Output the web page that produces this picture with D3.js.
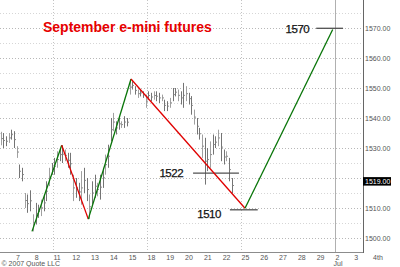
<!DOCTYPE html>
<html><head><meta charset="utf-8">
<script src="https://cdn.jsdelivr.net/npm/d3@7/dist/d3.min.js"></script>
<style>body{margin:0;background:#fff}svg{display:block}</style>
</head><body>
<svg id="c" width="400" height="267"></svg>
<script>
// ---------- data ----------
const title = "September e-mini futures";
const dayLabels = ["7","8","11","12","13","14","15","18","19","20","21","22","25","26","27","28","29","2","3","4th"];
const monthLabel = {index: 17, text: "Jul"};
const yTicks = [1500,1510,1520,1530,1540,1550,1560,1570];
const lastPrice = 1519;
// hourly bars, per trading day (Jun 6 .. Jun 22), [high, low]
const barDayIndex = [-1,0,1,2,3,4,5,6,7,8,9,10,11];
const barHighLow = [
  [[1536,1532],[1535.5,1531],[1535.1,1530.1],[1534,1530.7],[1535.1,1531.8],[1536.2,1532.9],[1535.7,1530.1]],
  [[1530.7,1526.8],[1524.6,1520.1],[1523.5,1519],[1515.1,1510.1],[1514.6,1508.5],[1516,1509],[1508,1502.3]],
  [[1511.8,1504.6],[1511.2,1506.8],[1512.9,1507.4],[1514.6,1509],[1519,1512.4],[1523.5,1517.4],[1525.1,1521.2]],
  [[1526.8,1521.2],[1529,1523.5],[1530.1,1525.7],[1531,1525.1],[1529.6,1525.7],[1528.5,1523.5],[1528.5,1521.2]],
  [[1521.2,1512.4],[1520.1,1513.5],[1518.5,1512.4],[1522.4,1511.2],[1523.5,1515.1],[1520.1,1512.4],[1514.6,1506.4]],
  [[1519,1511.2],[1521.2,1513.5],[1518.5,1514],[1521.2,1512.9],[1523.5,1516.8],[1527.9,1521.2],[1531.2,1523.5]],
  [[1540.1,1532.3],[1541.8,1535.7],[1539,1534.6],[1540.1,1536.2],[1539,1536.8],[1540.7,1536.8],[1540.1,1537.3]],
  [[1552.9,1547.9],[1552.3,1549.6],[1550.7,1547.9],[1549.6,1546.8],[1549.6,1547.3],[1549,1546.8],[1547.9,1543.5]],
  [[1549,1546.2],[1548.5,1545.7],[1549,1546.2],[1549,1545.7],[1548.5,1545.1],[1547.9,1545.7],[1546.2,1542.4]],
  [[1545.7,1542.4],[1546.8,1543.5],[1550.1,1545.7],[1550.1,1547.3],[1549.6,1545.7],[1549,1544.6],[1551.8,1543.5]],
  [[1550.7,1545.7],[1548.5,1544.6],[1547.4,1541.2],[1542.9,1537.9],[1540.1,1534.6],[1536.8,1532.9],[1534.6,1526.8]],
  [[1533.5,1517.9],[1530.1,1522.4],[1532.3,1523.5],[1534.6,1527.9],[1534,1530.1],[1536.2,1530.7],[1535.1,1525.7]],
  [[1529.6,1524.6],[1529,1525.7],[1526.8,1519],[1520.1,1515.1]]
];
const barsPerDay = 7;
// trend swings: [day position, price]
const swingPoints = [[0.883,1502.3],[2.463,1531],[3.878,1506.4],[6.149,1553.1],[12.213,1510],[16.878,1569.6]];
const swingColors = ["green","red","green","red","green"];
// horizontal target levels
const levelLabels = ["1570","1522","1510"];
const levelPrices = [1570,1521.7,1509.5];
const levelFrom = [16.0,9.45,11.41];
const levelTo = [17.43,11.89,12.89];

// ---------- chart ----------
const svg = d3.select("#c");
const plotRight = 363, plotBottom = 252;
const y = d3.scaleLinear().domain([1500,1570]).range([238.3,28.3]);
const x = d3.scaleLinear().domain([0,19]).range([15.4,372.6]);
const crisp = v => Math.round(v) + 0.5;
const FONT = "Liberation Sans, Arial, sans-serif";

// horizontal dotted grid
const gridVals = d3.range(1500,1580,5);
svg.append("g").selectAll("line").data(gridVals).join("line")
  .attr("x1",0).attr("x2",plotRight)
  .attr("y1",d=>crisp(y(d))).attr("y2",d=>crisp(y(d)))
  .attr("stroke",d=>d%10===0?"#b8b8b8":"#d6d6d6")
  .attr("stroke-dasharray","1,2");

// vertical week separators
const weekStarts = [2,7,12];
svg.append("g").selectAll("line").data(weekStarts).join("line")
  .attr("x1",d=>crisp(x(d))).attr("x2",d=>crisp(x(d)))
  .attr("y1",0).attr("y2",plotBottom)
  .attr("stroke","#c4c4c4").attr("stroke-dasharray","1,2");
// month separator (solid)
svg.append("line")
  .attr("x1",crisp(x(monthLabel.index))).attr("x2",crisp(x(monthLabel.index)))
  .attr("y1",0).attr("y2",plotBottom).attr("stroke","#b0b0b0");

// bars
const bars = [];
barHighLow.forEach((day,di)=>{
  day.forEach((hl,j)=>bars.push({u: barDayIndex[di] + (j+0.5)/barsPerDay, hi: hl[0], lo: hl[1]}));
});
svg.append("clipPath").attr("id","pc").append("rect")
  .attr("x",0).attr("y",0).attr("width",plotRight).attr("height",plotBottom);
const bg = svg.append("g").attr("clip-path","url(#pc)");
bg.selectAll("line.bar").data(bars).join("line").attr("class","bar")
  .attr("x1",d=>crisp(x(d.u))).attr("x2",d=>crisp(x(d.u)))
  .attr("y1",d=>y(d.hi)).attr("y2",d=>y(d.lo))
  .attr("stroke",(d,i)=>i%3===1?"#a0a0a0":"#747474").attr("stroke-width",1);
bg.selectAll("line.tick").data(bars).join("line").attr("class","tick")
  .attr("x1",d=>crisp(x(d.u))).attr("x2",d=>crisp(x(d.u))+1.5)
  .attr("y1",d=>y((d.hi+d.lo)/2)).attr("y2",d=>y((d.hi+d.lo)/2))
  .attr("stroke","#8a8a8a").attr("stroke-width",1);

// level lines
levelLabels.forEach((lab,i)=>{
  svg.append("line")
    .attr("x1",x(levelFrom[i])).attr("x2",x(levelTo[i]))
    .attr("y1",y(levelPrices[i])).attr("y2",y(levelPrices[i]))
    .attr("stroke","#505050").attr("stroke-width",1.3);
});
// swing lines
const line = d3.line().x(d=>x(d[0])).y(d=>y(d[1]));
for(let i=0;i<swingPoints.length-1;i++){
  svg.append("path").attr("d",line([swingPoints[i],swingPoints[i+1]]))
    .attr("fill","none")
    .attr("stroke",swingColors[i]==="green"?"#087508":"#e00000")
    .attr("stroke-width",1.3);
}
// level labels
const labelDx = [-7,-10,-9];
const labelDy = [4.2,4,8.4];
levelLabels.forEach((lab,i)=>{
  svg.append("text").text(lab)
    .attr("x",x(levelFrom[i])+labelDx[i]).attr("y",y(levelPrices[i])+labelDy[i])
    .attr("text-anchor","end")
    .attr("font-family",FONT)
    .attr("font-size",11.5).attr("fill","#111")
    .attr("stroke","#111").attr("stroke-width",0.25)
    .attr("letter-spacing","-0.5");
});

// title
svg.append("text").text(title)
  .attr("x",43).attr("y",32)
  .attr("font-family",FONT)
  .attr("font-size",14).attr("font-weight","bold").attr("fill","#e60000");

// axes lines
svg.append("line").attr("x1",0).attr("x2",plotRight)
  .attr("y1",crisp(plotBottom)).attr("y2",crisp(plotBottom)).attr("stroke","#8c8c8c");
svg.append("line").attr("x1",crisp(plotRight)).attr("x2",crisp(plotRight))
  .attr("y1",0).attr("y2",plotBottom+1).attr("stroke","#666");

// y axis (the 1520 label sits mostly behind the last-price box, as in the reference)
svg.append("clipPath").attr("id","yc").append("rect")
  .attr("x",plotRight).attr("y",0).attr("width",40).attr("height",y(lastPrice)-4.2);
svg.append("clipPath").attr("id","yc2").append("rect")
  .attr("x",plotRight).attr("y",y(lastPrice)+4.3).attr("width",40).attr("height",100);
const ya = d3.axisRight(y).tickValues(yTicks).tickFormat(d=>d.toFixed(2)).tickSize(0).tickPadding(2);
const yg = svg.append("g").attr("transform",`translate(${plotRight},0)`).call(ya);
yg.select(".domain").remove();
yg.selectAll("text").attr("font-family",FONT)
  .attr("font-size",7).attr("fill","#555");
yg.selectAll(".tick").filter(d=>Math.abs(d-lastPrice)<6)
  .attr("clip-path","url(#yc)");

// last price box
svg.append("rect").attr("x",plotRight).attr("y",y(lastPrice)-4.2)
  .attr("width",28).attr("height",8.5).attr("fill","#000");
svg.append("text").text(lastPrice.toFixed(2))
  .attr("x",plotRight+2).attr("y",y(lastPrice)+2.6)
  .attr("font-family",FONT)
  .attr("font-size",7).attr("fill","#fff");

// x labels
const xa = d3.axisBottom(x).tickValues(d3.range(dayLabels.length))
  .tickFormat(i=>dayLabels[i]).tickSize(0).tickPadding(0);
const xg = svg.append("g").attr("transform",`translate(0,${plotBottom})`).call(xa);
xg.select(".domain").remove();
xg.selectAll("text").attr("text-anchor","start").attr("y",7.5).attr("dy",0)
  .attr("font-family",FONT)
  .attr("font-size",7).attr("fill","#555");
svg.append("text").text(monthLabel.text)
  .attr("x",x(monthLabel.index)-1.5).attr("y",265.5)
  .attr("font-family",FONT)
  .attr("font-size",7).attr("fill","#555");

// copyright
svg.append("text").text("\u00A9 2007 Quote LLC")
  .attr("x",1.5).attr("y",265.5)
  .attr("font-family",FONT)
  .attr("font-size",7).attr("fill","#555");
</script>
</body></html>
